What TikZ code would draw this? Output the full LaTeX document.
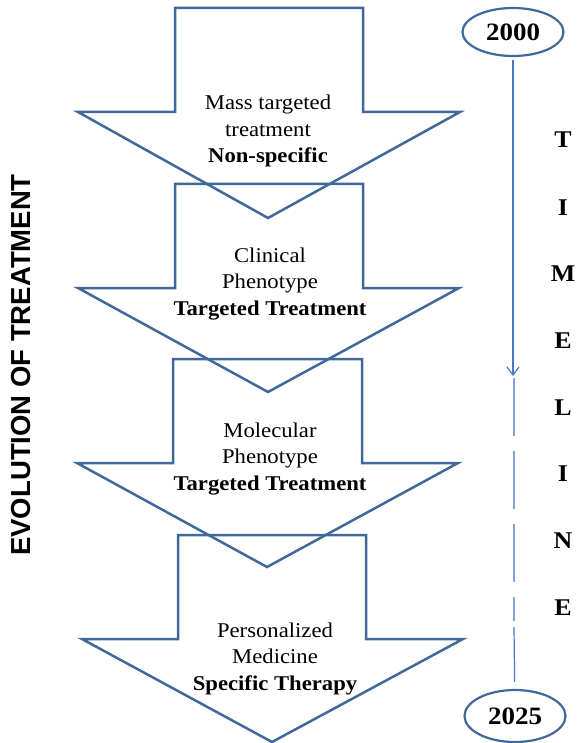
\documentclass[tikz,border=0pt]{standalone}
\usepackage{fontspec}
\setmainfont[FakeStretch=1.08]{Liberation Serif}
\newfontfamily\arialfont{Liberation Sans}
\usetikzlibrary{arrows.meta,shapes.geometric}
\definecolor{arrowblue}{RGB}{65,104,155}
\definecolor{lineblue}{RGB}{72,118,196}
\definecolor{dashblue}{RGB}{130,162,216}
\tikzset{
  bigarrow/.style={draw=arrowblue, line width=2.5pt, line join=miter},
  label/.style={font=\fontsize{21}{26}\selectfont, align=center, inner sep=0pt, anchor=base},
  boldlabel/.style={label, font=\fontsize{21}{26}\selectfont\bfseries},
  year/.style={ellipse, draw=arrowblue, line width=2.2pt, minimum width=101pt, minimum height=48pt, inner sep=0pt, font=\fontsize{25}{30}\selectfont\bfseries},
  letter/.style={font=\fontsize{24}{28}\selectfont\bfseries, inner sep=0pt, anchor=base},
}
\begin{document}
\begin{tikzpicture}[x=1pt,y=-1pt]
\useasboundingbox (0,0) rectangle (581,743);
% arrows
\draw[bigarrow] (175,8) -- (363,8) -- (363,112) -- (460,112) -- (268,218) -- (78,112) -- (175,112) -- cycle;
\draw[bigarrow] (175,184) -- (363,184) -- (363,288) -- (459,288) -- (268,392) -- (78,288) -- (175,288) -- cycle;
\draw[bigarrow] (173,359) -- (362,359) -- (362,463) -- (458,463) -- (267,567) -- (77,463) -- (173,463) -- cycle;
\draw[bigarrow] (178,535) -- (366,535) -- (366,639) -- (463,639) -- (272,742) -- (82,639) -- (178,639) -- cycle;
% texts
\node[label] (a1l1) at (268,110) {Mass targeted};
\node[label] (a1l2) at (268,137) {treatment};
\node[boldlabel] (a1l3) at (268,163) {Non-specific};
\node[label] (a2l1) at (270,262) {Clinical};
\node[label] (a2l2) at (270,288) {Phenotype};
\node[boldlabel] (a2l3) at (270,315) {Targeted Treatment};
\node[label] (a3l1) at (270,437) {Molecular};
\node[label] (a3l2) at (270,463) {Phenotype};
\node[boldlabel] (a3l3) at (270,490) {Targeted Treatment};
\node[label] (a4l1) at (275,637) {Personalized};
\node[label] (a4l2) at (275,663) {Medicine};
\node[boldlabel] (a4l3) at (275,690) {Specific Therapy};
% side title
\node[rotate=90, inner sep=0pt, font=\arialfont\bfseries\fontsize{27.5}{31}\selectfont] (title) at (21,365) {EVOLUTION OF TREATMENT};
% timeline
\node[year] (y2000) at (513,32) {2000};
\node[year, minimum height=52pt] (y2025) at (515,716) {2025};
\coordinate (tmid) at (513,376);
\coordinate (dstart) at (514,378);
\coordinate (dend) at (514,621);
\coordinate (sstart) at (514,627);
\draw[lineblue, line width=1.2pt, -{Straight Barb[length=8pt,width=12pt,line width=1.2pt]}, shorten <=3pt] (y2000) -- (tmid);
\draw[dashblue, line width=2.5pt, dash pattern=on 58pt off 15pt] (dstart) -- (dend);
\draw[lineblue, line width=1.2pt, shorten >=7pt] (sstart) -- (y2025);
% letters
\foreach \l/\yy [count=\i] in {T/148,I/215,M/281,E/348,L/415,I/481,N/548,E/615}{
  \node[letter] (tl\i) at (563,\yy) {\l};
}
\end{tikzpicture}
\end{document}
